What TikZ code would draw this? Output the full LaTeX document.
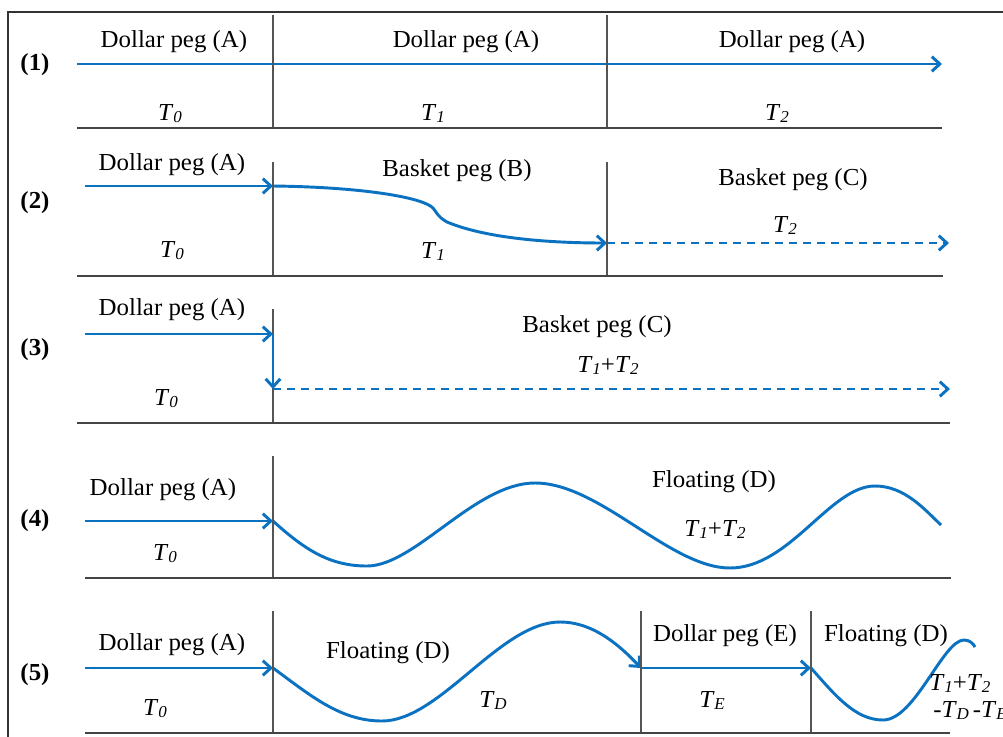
\documentclass[tikz,border=0pt]{standalone}
\usepackage{fontspec}
\setmainfont[FakeStretch=1.02]{Liberation Serif}
\usetikzlibrary{arrows.meta}
\definecolor{lineblue}{HTML}{0B72C2}
\definecolor{rule}{HTML}{555555}
\newcommand\Tsub[1]{\textit{T}\kern-0.2pt\raisebox{-0.12em}{\fontsize{12.5}{13}\selectfont\textit{#1}}}
\tikzset{
  lbl/.style={anchor=base, inner sep=0pt, font=\fontsize{18.3}{21}\selectfont},
  rowno/.style={anchor=center, inner sep=0pt, font=\fontsize{18.3}{21}\selectfont\bfseries},
  flow/.style={draw=lineblue, line width=2.2pt, -{Straight Barb[length=6pt,width=11pt,line width=2.2pt]}},
  flownoarrow/.style={draw=lineblue, line width=2.2pt},
  dashflow/.style={flow, dash pattern=on 6pt off 4.5pt},
  divider/.style={draw=rule, line width=0.9pt},
  baseline rule/.style={draw=rule!80!black, line width=1.4pt},
}
\begin{document}
\begin{tikzpicture}[x=0.75pt, y=-0.75pt]
\useasboundingbox (0,0) rectangle (1003,736);
% frame
\draw[draw=black!80, line width=1.2pt] (1010,12) -- (8,12) -- (8,745);

% ---------- Row 1 ----------
\node[rowno] (n1) at (35,65) {(1)};
\coordinate (r1a) at (77,64);
\coordinate (r1b) at (942,64);
\draw[flow] (r1a) -- (r1b);
\draw[divider] (273,15) -- (273,128);
\draw[divider] (607,15) -- (607,128);
\draw[baseline rule] (77,128) -- (942,128);
\node[lbl] (t1a) at (174,47) {Dollar peg (A)};
\node[lbl] (t1b) at (466,47) {Dollar peg (A)};
\node[lbl] (t1c) at (792,47) {Dollar peg (A)};
\node[lbl] (s1a) at (170,120) {\Tsub{0}};
\node[lbl] (s1b) at (433,120) {\Tsub{1}};
\node[lbl] (s1c) at (777,120) {\Tsub{2}};

% ---------- Row 2 ----------
\node[rowno] (n2) at (35,203) {(2)};
\coordinate (r2a) at (85,186);
\coordinate (r2b) at (273,186);
\coordinate (r2c) at (607,243);
\coordinate (r2d) at (949,243);
\draw[flow] (r2a) -- (r2b);
\draw[flow] (r2b) .. controls (360,187) and (422,197) .. (433,208)
   .. controls (437,213) and (438,217) .. (447,222)
   .. controls (490,240) and (560,243) .. (r2c);
\draw[dashflow] (r2c) -- (r2d);
\draw[divider] (273,162) -- (273,276);
\draw[divider] (607,162) -- (607,276);
\draw[baseline rule] (77,276) -- (943,276);
\node[lbl] (t2a) at (172,170) {Dollar peg (A)};
\node[lbl] (t2b) at (457,176) {Basket peg (B)};
\node[lbl] (t2c) at (793,185) {Basket peg (C)};
\node[lbl] (s2c) at (785,232) {\Tsub{2}};
\node[lbl] (s2a) at (172,257) {\Tsub{0}};
\node[lbl] (s2b) at (433,258) {\Tsub{1}};

% ---------- Row 3 ----------
\node[rowno] (n3) at (35,350) {(3)};
\coordinate (r3a) at (85,334);
\coordinate (r3b) at (273,334);
\coordinate (r3c) at (273,389);
\coordinate (r3d) at (950,389);
\draw[divider] (273,309) -- (273,423);
\draw[flow] (r3a) -- (r3b);
\draw[flow] (r3b) -- (r3c);
\draw[dashflow] (r3c) -- (r3d);
\draw[baseline rule] (77,423) -- (950,423);
\node[lbl] (t3a) at (172,315) {Dollar peg (A)};
\node[lbl] (t3b) at (597,332) {Basket peg (C)};
\node[lbl] (s3b) at (608,372) {\Tsub{1}+\Tsub{2}};
\node[lbl] (s3a) at (166,405) {\Tsub{0}};

% ---------- Row 4 ----------
\node[rowno] (n4) at (35,521) {(4)};
\coordinate (r4a) at (85,521);
\coordinate (r4b) at (273,521);
\coordinate (r4e) at (941,525);
\draw[flow] (r4a) -- (r4b);
\draw[flownoarrow] (r4b) .. controls (305,550) and (330,566) .. (367,566)
   .. controls (415,566) and (475,483) .. (535,483)
   .. controls (600,483) and (670,568) .. (730,568)
   .. controls (790,568) and (830,486) .. (875,486)
   .. controls (905,486) and (925,510) .. (r4e);
\draw[divider] (273,456) -- (273,578);
\draw[baseline rule] (85,578) -- (951,578);
\node[lbl] (t4a) at (163,495) {Dollar peg (A)};
\node[lbl] (s4a) at (165,560) {\Tsub{0}};
\node[lbl] (t4b) at (714,487) {Floating (D)};
\node[lbl] (s4b) at (715,536) {\Tsub{1}+\Tsub{2}};

% ---------- Row 5 ----------
\node[rowno] (n5) at (35,675) {(5)};
\coordinate (r5a) at (85,668);
\coordinate (r5b) at (273,668);
\coordinate (r5c) at (641,668);
\coordinate (r5d) at (811,668);
\coordinate (r5e) at (975,647);
\draw[flow] (r5a) -- (r5b);
\draw[flow] (r5b) .. controls (310,695) and (340,721) .. (382,721)
   .. controls (440,721) and (500,622) .. (560,622)
   .. controls (595,622) and (622,648) .. (r5c);
\draw[flow] (r5c) -- (r5d);
\draw[flownoarrow] (r5d) .. controls (835,695) and (855,720) .. (883,720)
   .. controls (915,720) and (943,640) .. (964,640)
   .. controls (969,640) and (973,643) .. (r5e);
\draw[divider] (273,611) -- (273,733);
\draw[divider] (641,611) -- (641,733);
\draw[divider] (811,611) -- (811,733);
\draw[baseline rule] (85,733) -- (950,733);
\node[lbl] (t5a) at (172,650) {Dollar peg (A)};
\node[lbl] (s5a) at (155,715) {\Tsub{0}};
\node[lbl] (t5b) at (388,658) {Floating (D)};
\node[lbl] (s5b) at (493,707) {\Tsub{D}};
\node[lbl] (t5c) at (725,641) {Dollar peg (E)};
\node[lbl] (s5c) at (712,707) {\Tsub{E}};
\node[lbl] (t5d) at (886,641) {Floating (D)};
\node[lbl, anchor=base west] (s5d) at (929,690) {\Tsub{1}+\Tsub{2}};
\node[lbl, anchor=base west] (s5e) at (933,717) {-\Tsub{D}\,-\Tsub{E}};
\end{tikzpicture}
\end{document}
